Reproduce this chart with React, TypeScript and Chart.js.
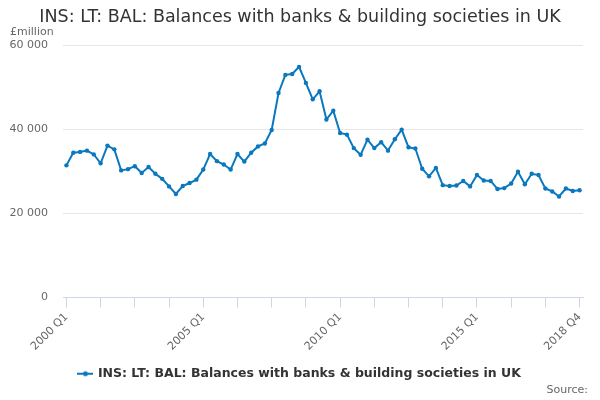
import React, { useRef, useEffect } from 'react';
import { Chart, registerables } from 'chart.js';

Chart.register(...registerables);

const seriesName = 'INS: LT: BAL: Balances with banks & building societies in UK';
const startYear = 2000;
const endYear = 2018;
const labeledIdx = [0, 20, 40, 60, 75];
const yTicks = [0, 20000, 40000, 60000];

// £million, quarterly 2000 Q1 .. 2018 Q4
const values = [
    31400, 34400, 34600, 34900, 34000, 31900, 36100, 35200, 30200, 30500,
    31200, 29600, 31000, 29400, 28200, 26400, 24600, 26500, 27200, 28000,
    30400, 34100, 32400, 31600, 30400, 34100, 32300, 34400, 35900, 36600,
    39800, 48600, 52900, 53100, 54800, 51000, 47100, 49000, 42300, 44400,
    39100, 38700, 35500, 33900, 37500, 35500, 36900, 34900, 37600, 39900,
    35700, 35400, 30600, 28800, 30800, 26700, 26500, 26600, 27700, 26400,
    29100, 27800, 27700, 25800, 26000, 27100, 29900, 26900, 29400, 29100,
    25900, 25200, 24000, 25900, 25300, 25500,
];

const quarters: string[] = [];
for (let y = startYear; y <= endYear; y++) {
    for (let q = 1; q <= 4; q++) quarters.push(y + ' Q' + q);
}

const lineColor = '#0a78bf';

const fmt = (v: number) => String(v).replace(/\B(?=(\d{3})+(?!\d))/g, ' ');

const ChartGraphic: React.FC = () => {
    const chartRef = useRef<HTMLCanvasElement | null>(null);

    useEffect(() => {
        if (!chartRef.current) return;

        // legend symbol: short line with a dot
        const sym = document.createElement('canvas');
        sym.width = 16;
        sym.height = 8;
        const sc = sym.getContext('2d');
        if (sc) {
            sc.strokeStyle = lineColor;
            sc.lineWidth = 2;
            sc.beginPath();
            sc.moveTo(0, 4);
            sc.lineTo(16, 4);
            sc.stroke();
            sc.fillStyle = lineColor;
            sc.beginPath();
            sc.arc(8, 4, 2.5, 0, Math.PI * 2);
            sc.fill();
        }

        const extraText = {
            id: 'extraText',
            afterDraw(chart: Chart) {
                const c = chart.ctx;
                c.save();
                c.font = '11px "DejaVu Sans"';
                c.fillStyle = '#666666';
                c.textBaseline = 'middle';
                c.textAlign = 'left';
                c.fillText('£million', 10, 32);
                c.textAlign = 'right';
                c.fillText('Source:', 588, 390);
                c.restore();
            },
        };

        const chart = new Chart(chartRef.current, {
            type: 'line',
            data: {
                datasets: [{
                    label: seriesName,
                    data: values.map((v, i) => ({ x: i, y: v })),
                    borderColor: lineColor,
                    backgroundColor: lineColor,
                    borderWidth: 2,
                    pointRadius: 2.2,
                    pointBorderWidth: 0,
                    pointHoverRadius: 2.2,
                    tension: 0,
                    pointStyle: 'circle',
                }],
            },
            options: {
                animation: false,
                responsive: false,
                layout: { padding: { left: 8, right: 8, top: 0, bottom: 10 } },
                font: { family: '"DejaVu Sans"' },
                plugins: {
                    title: {
                        display: true,
                        text: seriesName,
                        color: '#333333',
                        font: { size: 17.5, weight: 'normal', family: '"DejaVu Sans"' },
                        padding: { top: 6.5, bottom: 17.5 },
                    },
                    legend: {
                        position: 'bottom',
                        labels: {
                            usePointStyle: true,
                            pointStyle: sym,
                            color: '#333333',
                            font: { size: 12.5, weight: 'bold', family: '"DejaVu Sans"' },
                            padding: 8,
                        },
                    },
                    tooltip: { enabled: false },
                },
                scales: {
                    x: {
                        type: 'linear',
                        min: -0.5,
                        max: values.length - 0.5,
                        afterBuildTicks: (scale: any) => {
                            const t = [];
                            for (let i = 0; i < values.length; i += 5) t.push({ value: i });
                            scale.ticks = t;
                        },
                        afterFit: (scale: any) => {
                            scale.height = 62;
                            scale.paddingLeft = 0;
                            scale.paddingRight = 17;
                        },
                        grid: {
                            drawOnChartArea: false,
                            drawTicks: true,
                            tickLength: 10,
                            color: '#ccd6eb',
                        },
                        border: { display: true, color: '#ccd6eb' },
                        ticks: {
                            autoSkip: false,
                            maxRotation: 45,
                            minRotation: 45,
                            padding: 3,
                            color: '#666666',
                            font: { size: 11, family: '"DejaVu Sans"' },
                            callback: (v: any) => (labeledIdx.includes(Number(v)) ? quarters[Number(v)] : ''),
                        },
                    },
                    y: {
                        min: 0,
                        max: 60000,
                        afterBuildTicks: (scale: any) => {
                            scale.ticks = yTicks.map((v) => ({ value: v }));
                        },
                        afterFit: (scale: any) => {
                            scale.width = 55;
                        },
                        grid: { color: '#e6e6e6', drawTicks: false },
                        border: { display: false },
                        ticks: {
                            padding: 15,
                            color: '#666666',
                            font: { size: 11, family: '"DejaVu Sans"' },
                            callback: (v: any) => fmt(Number(v)),
                        },
                    },
                },
            },
            plugins: [extraText],
        });

        return () => {
            chart.destroy();
        };
    }, []);

    return (
        <div style={{ position: 'fixed', left: 0, top: 0, width: 600, height: 400, background: '#fff' }}>
            <canvas ref={chartRef} width={600} height={400}></canvas>
        </div>
    );
};

export default ChartGraphic;
